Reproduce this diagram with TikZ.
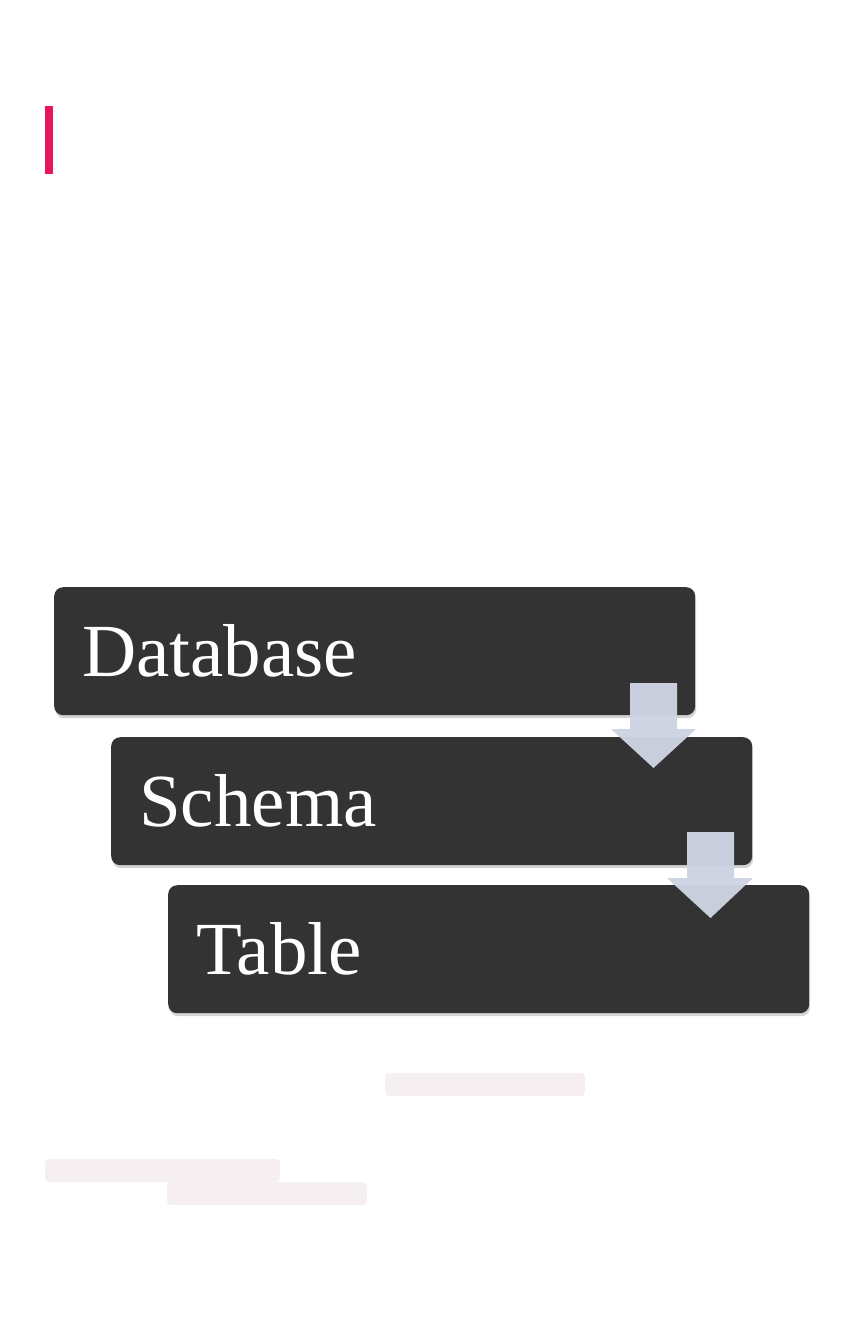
\documentclass[tikz,border=0pt]{standalone}
\usepackage{fontspec}
\setmainfont{Liberation Serif}
\usetikzlibrary{shadows}
\definecolor{pinkbar}{HTML}{E8175D}
\definecolor{boxdark}{HTML}{333333}
\definecolor{arrowfill}{HTML}{CDD4E2}
\definecolor{ghost}{HTML}{F6EFF1}
\tikzset{
  stagebox/.style={anchor=north west, fill=boxdark, rounded corners=9pt,
    minimum width=641pt, minimum height=128pt, text width=585pt, inner xsep=28pt,
    align=left, text=white, font=\fontsize{75}{82}\selectfont,
    drop shadow={shadow xshift=1pt, shadow yshift=-3pt, opacity=0.35}},
  flowarrow/.style={fill=arrowfill, draw=none, opacity=0.97},
  ghostbar/.style={fill=ghost, rounded corners=4pt}
}
\begin{document}
\begin{tikzpicture}[x=1pt,y=-1pt]
\useasboundingbox (0,0) rectangle (864,1344);
\fill[pinkbar] (45,106) rectangle (53,174);
\node[stagebox] (db) at (54,587) {Database};
\node[stagebox] (sc) at (111,737) {Schema};
\node[stagebox] (tb) at (168,885) {Table};
\fill[flowarrow] (630,683) -- (677,683) -- (677,729) -- (696,729) -- (653.5,768) -- (611,729) -- (630,729) -- cycle;
\fill[flowarrow] (687,832) -- (734,832) -- (734,878) -- (753,878) -- (710.5,918) -- (667,878) -- (687,878) -- cycle;
\fill[ghostbar] (385,1073) rectangle (585,1096);
\fill[ghostbar] (45,1159) rectangle (280,1182);
\fill[ghostbar] (167,1182) rectangle (367,1205);
\end{tikzpicture}
\end{document}
